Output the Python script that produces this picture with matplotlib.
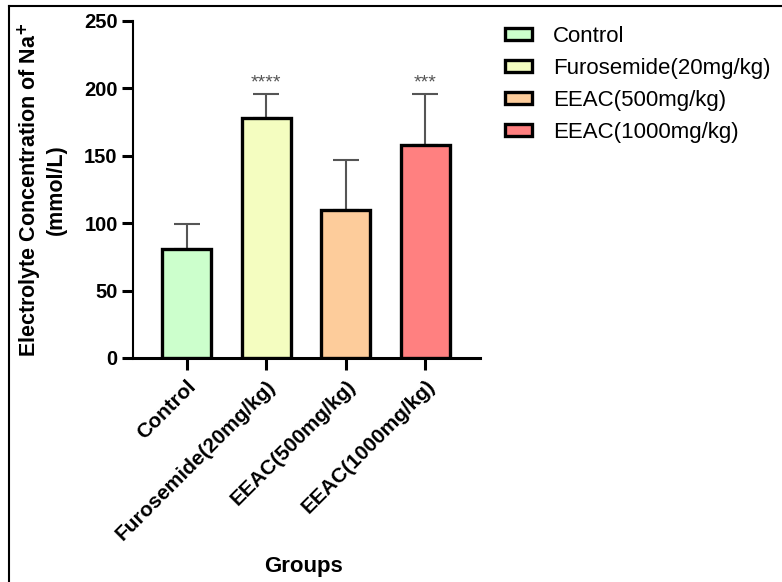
import matplotlib.pyplot as plt
from matplotlib.lines import Line2D

plt.rcParams['font.family'] = ['Liberation Sans', 'DejaVu Sans']

# dados
grupos = ['Control', 'Furosemide(20mg/kg)', 'EEAC(500mg/kg)', 'EEAC(1000mg/kg)']
medias = [81, 178, 110, 158]
erros = [18, 18, 37, 38]
estrelas = ['', '****', '', '***']
cores = ['#CCFFCC', '#F4FDC0', '#FDCC9B', '#FF8080']

fig = plt.figure(figsize=(7.82, 5.82), dpi=100)
ax = fig.add_axes([0.170, 0.385, 0.444, 0.579])

x = list(range(len(grupos)))
barras = ax.bar(x, medias, width=0.62, color=cores, edgecolor='black', linewidth=2.4,
                label=grupos, zorder=3)
ax.errorbar(x, medias, yerr=[[0] * len(erros), erros], fmt='none', ecolor='#555555',
            elinewidth=1.5, capsize=9.7, capthick=1.5, zorder=2)

for xi, m, e, s in zip(x, medias, erros, estrelas):
    if s:
        ax.text(xi, m + e + 1.5, s, ha='center', va='bottom', fontsize=14, color='#555555')

ax.set_xlim(-0.675, 3.69)
ax.set_ylim(0, 250)
ax.set_yticks([0, 50, 100, 150, 200, 250])
ax.set_xticks(x)
ax.set_xticklabels(grupos, rotation=45, ha='right', rotation_mode='anchor',
                   fontsize=15, fontweight='bold')
for lbl in ax.get_yticklabels():
    lbl.set_fontsize(14.5)
    lbl.set_fontweight('bold')

ax.spines['top'].set_visible(False)
ax.spines['right'].set_visible(False)
ax.spines['left'].set_linewidth(1.5)
ax.spines['bottom'].set_linewidth(2.2)
ax.tick_params(axis='y', length=8, width=2.2, pad=3)
ax.tick_params(axis='x', length=8.5, width=2.2, pad=5)

ax.set_ylabel('Electrolyte Concentration of Na$^{\\mathbf{+}}$\n(mmol/L)',
              fontsize=15.5, fontweight='bold', linespacing=1.1)
ax.yaxis.set_label_coords(-0.19, 0.5)
ax.set_xlabel('Groups', fontsize=16, fontweight='bold')
ax.xaxis.set_label_coords(0.49, -0.62)
ax.xaxis.label.set_va('center')

leg = ax.legend(handles=barras.patches, labels=grupos, loc='upper left',
                bbox_to_anchor=(1.072, 0.985), frameon=False, fontsize=16,
                handlelength=1.2, handleheight=0.45, labelspacing=0.5,
                handletextpad=0.95, borderpad=0, borderaxespad=0)

# moldura da figura (esquerda e topo)
fig.add_artist(Line2D([0.0115, 0.0115], [0, 0.99], transform=fig.transFigure,
                      color='black', linewidth=1.5))
fig.add_artist(Line2D([0.0115, 1], [0.99, 0.99], transform=fig.transFigure,
                      color='black', linewidth=1.5))

fig.savefig('out.png', dpi=100)
